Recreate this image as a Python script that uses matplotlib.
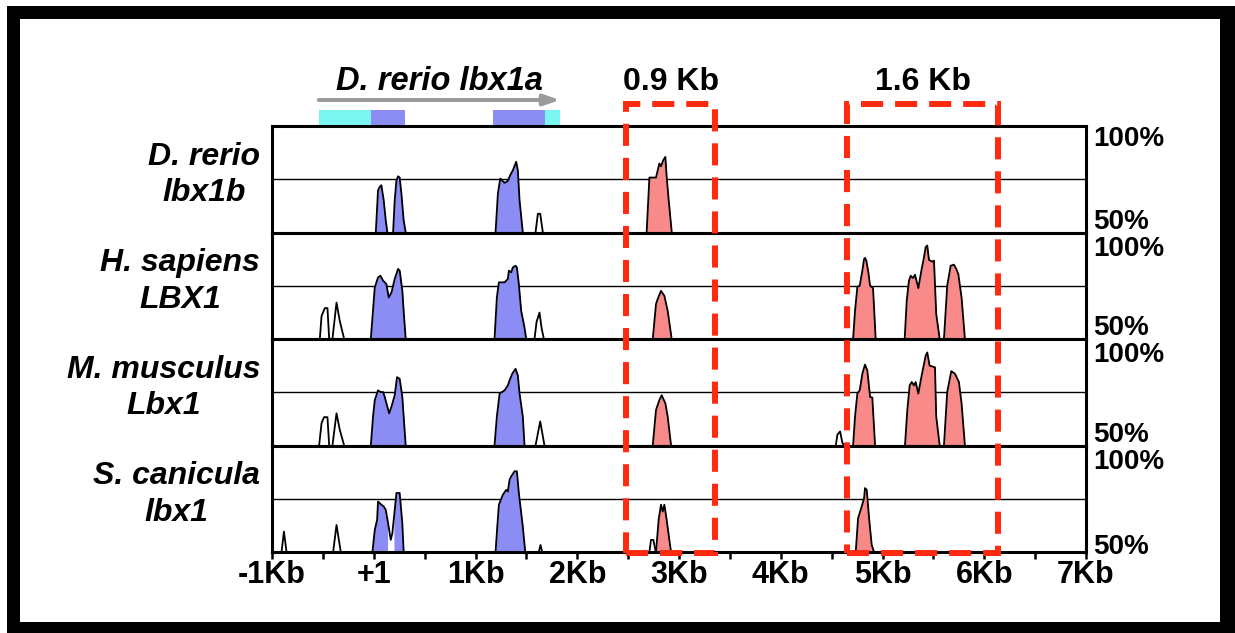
import matplotlib
matplotlib.use("Agg")
import matplotlib.pyplot as plt
from matplotlib.patches import Rectangle
from matplotlib.transforms import blended_transform_factory

plt.rcParams['font.family'] = ['Liberation Sans', 'DejaVu Sans']

# ---- data (positions in bp relative to +1, conservation in %) ----
species = ['D. rerio\nlbx1b', 'H. sapiens\nLBX1', 'M. musculus\nLbx1', 'S. canicula\nlbx1']

major_ticks = [-1000, 0, 1000, 2000, 3000, 4000, 5000, 6000, 7000]
minor_ticks = [-500, 500, 1500, 2500, 3500, 4500, 5500, 6500]
tick_labels = ['-1Kb', '+1', '1Kb', '2Kb', '3Kb', '4Kb', '5Kb', '6Kb', '7Kb']

gene_name = 'D. rerio lbx1a'
gene_span = (-540, 1833)
utr_blocks = [(-540, -30), (1686, 1833)]
exon_blocks = [(-30, 305), (1169, 1686)]

boxed_regions = [(2480, 3355), (4655, 6135)]
box_labels = ['0.9 Kb', '1.6 Kb']

# each peak: (kind, x positions, % identity)
drerio_lbx1b = [
    ('exon', [20, 42, 59, 75, 98, 118, 134], [50, 69.8, 71.4, 72.2, 65.1, 55.7, 50]),
    ('exon', [190, 206, 223, 239, 255, 272, 294, 314], [50, 65.1, 74.5, 76.4, 75.8, 68.2, 55.7, 50]),
    ('exon', [1197, 1220, 1243, 1286, 1318, 1341, 1367, 1400, 1416, 1433, 1465],
     [50, 68.2, 75.3, 73.3, 74.2, 76.9, 79.2, 83.2, 79.2, 65.1, 50]),
    ('other', [1590, 1613, 1636, 1662], [50, 58.8, 58.8, 50]),
    ('cns', [2682, 2709, 2774, 2807, 2823, 2846, 2866, 2879, 2899, 2929],
     [50, 75.8, 75.8, 82.4, 81.1, 84.0, 85.5, 76.1, 65.1, 50]),
]

hsapiens_lbx1 = [
    ('other', [-530, -513, -481, -455, -438], [50, 60.8, 64.5, 64.5, 50]),
    ('other', [-406, -366, -334, -291], [50, 67.1, 58.5, 50]),
    ('exon', [-29, 10, 42, 66, 92, 124, 147, 174, 206, 239, 255, 281, 294, 314],
     [50, 74.2, 78.9, 79.7, 77.4, 75.8, 69.5, 71.8, 78.2, 82.9, 82.1, 72.6, 63.2, 50]),
    ('exon', [1187, 1210, 1230, 1286, 1318, 1328, 1351, 1367, 1394, 1407, 1426, 1449, 1482, 1498],
     [50, 69.5, 76.6, 76.6, 78.2, 82.1, 81.3, 83.6, 84.4, 83.6, 75.8, 63.2, 55.3, 50]),
    ('other', [1580, 1600, 1629, 1650, 1672], [50, 58, 62.4, 55, 50]),
    ('cns', [2742, 2774, 2790, 2823, 2856, 2889, 2928], [50, 66.4, 68.7, 72.6, 70.3, 63.2, 50]),
    ('cns', [4711, 4730, 4753, 4776, 4802, 4819, 4828, 4841, 4861, 4878, 4907, 4933],
     [50, 63.2, 74.5, 75.0, 82.1, 87.6, 88.1, 86.8, 81.3, 75.0, 73.9, 50]),
    ('cns', [5218, 5238, 5260, 5277, 5300, 5319, 5352, 5385, 5408, 5424, 5440, 5457, 5490, 5506, 5528, 5562],
     [50, 67.9, 77.4, 79.7, 78.6, 80.2, 73.9, 82.9, 88.4, 93.1, 93.9, 87.1, 86.3, 86.8, 61.7, 50]),
    ('cns', [5604, 5636, 5670, 5702, 5725, 5745, 5777, 5810], [50, 75.0, 84.4, 84.9, 82.9, 80.5, 69.5, 50]),
]

mmusculus_lbx1 = [
    ('other', [-537, -513, -488, -455, -438], [50, 60.5, 63.3, 63.3, 50]),
    ('other', [-406, -366, -334, -291], [50, 65.1, 57.4, 50]),
    ('exon', [-29, -7, 10, 42, 66, 92, 108, 151, 174, 206, 229, 255, 281, 294, 314],
     [50, 63.6, 71.3, 75.9, 75.1, 75.1, 72.8, 65.1, 68.2, 73.6, 82.1, 81.3, 72.8, 63.6, 50]),
    ('exon', [1187, 1210, 1237, 1286, 1318, 1335, 1361, 1394, 1416, 1433, 1465, 1482],
     [50, 63.6, 74.4, 75.9, 78.2, 80.6, 83.7, 86.0, 82.9, 74.4, 63.6, 50]),
    ('other', [1590, 1636, 1678], [50, 61.3, 50]),
    ('cns', [2742, 2774, 2807, 2830, 2866, 2889, 2922], [50, 66.7, 71.3, 73.6, 69.8, 63.6, 50]),
    ('other', [4541, 4557, 4583, 4606, 4622], [50, 55.1, 56.6, 51.2, 50]),
    ('cns', [4711, 4730, 4753, 4776, 4802, 4828, 4851, 4878, 4900, 4927],
     [50, 63.6, 74.4, 75.9, 83.7, 88.0, 85.2, 72.8, 72.5, 50]),
    ('cns', [5221, 5244, 5267, 5287, 5310, 5326, 5352, 5385, 5424, 5440, 5463, 5516, 5528, 5562],
     [50, 66.7, 78.2, 79.8, 78.2, 79.8, 74.4, 82.9, 92.1, 93.7, 87.5, 86.7, 63.6, 50]),
    ('cns', [5604, 5636, 5676, 5712, 5751, 5777, 5810], [50, 75.1, 84.9, 83.7, 79.8, 69.8, 50]),
]

scanicula_lbx1 = [
    ('other', [-906, -883, -857], [50, 59.6, 50]),
    ('other', [-399, -366, -324], [50, 62.7, 50]),
    ('exon', [-13, 10, 33, 42, 75, 98, 118, 141, 167, 183, 203, 223, 255, 281, 294],
     [50, 60.4, 65.1, 73.7, 72.2, 71.4, 69.8, 63.5, 55.7, 58.8, 68.3, 77.7, 77.7, 63.5, 50]),
    ('exon', [1197, 1214, 1230, 1269, 1302, 1318, 1335, 1351, 1384, 1407, 1426, 1465, 1489],
     [50, 61.9, 72.2, 76.9, 79.2, 78.4, 84.0, 85.5, 87.9, 87.9, 77.7, 61.9, 50]),
    ('other', [1622, 1639, 1655], [50, 53.3, 50]),
    ('other', [2709, 2725, 2748, 2768, 2774], [50, 55.7, 55.7, 50.9, 50]),
    ('cns', [2774, 2800, 2823, 2840, 2856, 2879, 2905, 2922], [50, 65.1, 72.2, 69.0, 72.2, 65.1, 55.7, 50]),
    ('cns', [4737, 4760, 4796, 4819, 4828, 4845, 4868, 4894, 4917], [50, 65.9, 71.4, 75.3, 80.0, 79.2, 65.9, 53.3, 50]),
]
# stretch inside the first S. canicula exon peak that is left unfilled
scanicula_gap = (141, 200)

tracks = [drerio_lbx1b, hsapiens_lbx1, mmusculus_lbx1, scanicula_lbx1]
gaps = [None, None, None, scanicula_gap]

fills = {'exon': '#8c8cf5', 'cns': '#f88a8a', 'other': 'white'}
utr_color = '#7af5ef'
box_color = '#ff2a10'

# ---- layout (pixels of the 1235x633 canvas) ----
W, H = 1235, 633
x_left, x_right = 272, 1086
top_px, track_px = 126, 106.5

fig = plt.figure(figsize=(W / 100, H / 100), dpi=100)

axes = []
for i, (label, peaks) in enumerate(zip(species, tracks)):
    y_top = top_px + i * track_px
    ax = fig.add_axes([x_left / W, 1 - (y_top + track_px) / H, (x_right - x_left) / W, track_px / H],
                      sharex=axes[0] if axes else None)
    ax.set_xlim(-1000, 7000)
    ax.set_ylim(50, 100)
    ax.axhline(75, color='black', lw=1.0, zorder=1)
    for kind, xs, ys in peaks:
        where = None
        if gaps[i] is not None and kind == 'exon':
            where = [not (gaps[i][0] < x < gaps[i][1]) for x in xs]
        ax.fill_between(xs, 50, ys, where=where, color=fills[kind], lw=0, zorder=2)
        ax.plot(xs, ys, color='black', lw=1.3, zorder=3)
    ax.set_yticks([])
    for s in ax.spines.values():
        s.set_linewidth(2.2)
        s.set_zorder(4)
    ax.text(-0.0147, 0.54, label, transform=ax.transAxes, ha='right', va='center',
            multialignment='center', fontsize=23, fontweight='bold', fontstyle='italic', linespacing=1.27)
    axes.append(ax)

# percent scale labels at the right: 100% at the top, "50%/100%" at each boundary, 50% at the bottom
pct_kw = dict(ha='left', fontsize=20, fontweight='bold')
axes[0].text(1.0086, 1.0, '100%', transform=axes[0].transAxes, va='top', **pct_kw)
for ax in axes[:-1]:
    ax.text(1.0086, -0.028, '50%\n100%', transform=ax.transAxes, va='center',
            linespacing=1.05, **pct_kw)
axes[-1].text(1.0086, -0.02, '50%', transform=axes[-1].transAxes, va='baseline', **pct_kw)

for i, ax in enumerate(axes):
    last = i == len(axes) - 1
    ax.tick_params(axis='x', which='both', bottom=last, labelbottom=last, top=False,
                   direction='out', length=5, width=1.8, pad=1)

axes[-1].set_xticks(major_ticks)
axes[-1].set_xticklabels(tick_labels, fontsize=22, fontweight='bold')
axes[-1].set_xticks(minor_ticks, minor=True)

# gene model above the tracks
gax = fig.add_axes([x_left / W, 1 - top_px / H, (x_right - x_left) / W, 66 / H], sharex=axes[0])
gax.set_ylim(0, 1)
gax.axis('off')
gax.barh(0.015, [b - a for a, b in utr_blocks], left=[a for a, b in utr_blocks],
         height=0.227, align='edge', color=utr_color, lw=0)
gax.barh(0.015, [b - a for a, b in exon_blocks], left=[a for a, b in exon_blocks],
         height=0.227, align='edge', color=fills['exon'], lw=0)
gax.annotate('', xy=(gene_span[1], 0.394), xytext=(gene_span[0], 0.394),
             arrowprops=dict(arrowstyle='-|>,head_length=0.95,head_width=0.32', lw=2.9,
                             color='#9a9a9a', shrinkA=0, shrinkB=0, mutation_scale=10))
gax.text(sum(gene_span) / 2, 0.545, gene_name, ha='center', va='baseline',
         fontsize=23.5, fontweight='bold', fontstyle='italic')

# dashed boxes around the conserved regions
trans = blended_transform_factory(axes[-1].transData, fig.transFigure)
for (a, b), txt in zip(boxed_regions, box_labels):
    fig.add_artist(Rectangle((a, 1 - 553 / H), b - a, (553 - 104) / H, transform=trans,
                             fill=False, edgecolor=box_color, lw=4.3,
                             linestyle=(0, (3.7, 2.0)), zorder=10, clip_on=False))
    fig.text((a + b) / 2, 1 - 90 / H, txt, transform=trans, ha='center', va='baseline',
             fontsize=23, fontweight='bold')

# thick black frame round the panel
for x0, y0, x1, y1 in [(7, 6, 20, 633), (7, 6, 1235, 19), (1220, 6, 1235, 633), (7, 622, 1235, 633)]:
    fig.add_artist(Rectangle((x0 / W, 1 - y1 / H), (x1 - x0) / W, (y1 - y0) / H,
                             transform=fig.transFigure, color='black', lw=0))

fig.savefig('out.png', dpi=100)
